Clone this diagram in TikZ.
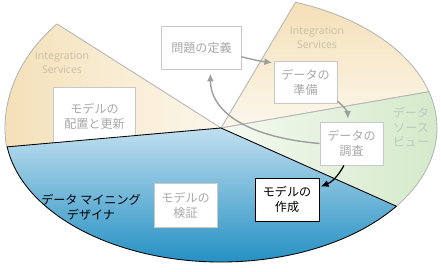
\documentclass[tikz,border=0pt]{standalone}
\usepackage{fontspec}
\setmainfont{Noto Sans CJK JP}
\newfontfamily\dmlatin{Open Sans}
\usetikzlibrary{arrows.meta,positioning}
\definecolor{DmTanDark}{RGB}{244,224,183}
\definecolor{DmTanLight}{RGB}{252,247,236}
\definecolor{DmBlueTop}{RGB}{192,223,239}
\definecolor{DmBlueBottom}{RGB}{27,139,192}
\definecolor{DmGreenDark}{RGB}{210,233,200}
\definecolor{DmGreenLight}{RGB}{245,250,241}
\definecolor{DmEdgeGray}{RGB}{180,180,180}
\definecolor{DmBoxGray}{RGB}{200,200,200}
\definecolor{DmTextGray}{RGB}{168,168,168}
\definecolor{DmArrowGray}{RGB}{158,158,158}
\definecolor{DmIsText}{RGB}{200,190,166}
\definecolor{DmDsvText}{RGB}{188,202,188}
\tikzset{
  dm/wedge/.style={draw=DmEdgeGray, line width=0.6pt, line join=round},
  dm/box/.style={
    draw=DmBoxGray,
    line width=0.7pt,
    fill=white,
    align=center,
    text=DmTextGray,
    inner sep=0pt,
    font=\fontsize{8.6}{10.6}\selectfont
  },
  dm/activebox/.style={dm/box, draw=black, text=black},
  dm/islabel/.style={font=\dmlatin\fontsize{7.5}{10}\selectfont, text=DmIsText, align=center},
  dm/dsvlabel/.style={font=\fontsize{8.6}{10.6}\selectfont, text=DmDsvText, align=center},
  dm/dmdlabel/.style={font=\fontsize{8.6}{10.6}\selectfont, text=black, align=center},
  dm/arrow/.style={-{Latex[length=5.5pt,width=5pt]}, line width=1pt, draw=DmArrowGray},
  dm/blackarrow/.style={-{Latex[length=5.5pt,width=5pt]}, line width=0.9pt, draw=black}
}

\begin{document}
\begin{tikzpicture}[x=0.025cm,y=0.025cm]
  \useasboundingbox (0,0) rectangle (441,271);
  \coordinate (hub) at (221,143);

  % pie pieces
  \draw[dm/wedge, left color=DmTanDark, right color=DmTanLight]
    (hub) -- ++(139.4:216 and 160) arc[start angle=139.4, end angle=186.8, x radius=216, y radius=160] -- cycle;
  \draw[dm/wedge, top color=DmTanDark, bottom color=DmTanLight]
    (hub) -- ++(15.7:216 and 134) arc[start angle=15.7, end angle=69.8, x radius=216, y radius=134] -- cycle;
  \draw[dm/wedge, left color=DmGreenLight, right color=DmGreenDark]
    (hub) -- ++(-35.7:216 and 134) arc[start angle=-35.7, end angle=15.7, x radius=216, y radius=134] -- cycle;

  \node[dm/box, minimum width=2.025cm, minimum height=1.475cm] (haichi) at (94.5,154.5) {モデルの\\配置と更新};

  \draw[line width=0.6pt, line join=round, draw=black, top color=DmBlueTop, bottom color=DmBlueBottom]
    (hub) -- ++(188.1:216 and 134) arc[start angle=188.1, end angle=324.3, x radius=216, y radius=134] -- cycle;

  % labels
  \node[dm/islabel] (isleft) at (62,208) {Integration\\Services};
  \node[dm/islabel] (isright) at (317,233.5) {Integration\\Services};
  \node[dm/dsvlabel] (dsv) at (411,144) {データ\\ソース\\ビュー};
  \node[dm/dmdlabel] (dmd) at (91,63.5) {データ マイニング\\デザイナ};

  % steps
  \node[dm/box, minimum width=1.975cm, minimum height=1.075cm] (teigi) at (201.5,223.5) {問題の定義};
  \node[dm/box, minimum width=1.575cm, minimum height=1.05cm] (junbi) at (305.5,189) {データの\\準備};
  \node[dm/box, minimum width=1.575cm, minimum height=1.075cm] (chosa) at (351.5,127.5) {データの\\調査};
  \node[dm/activebox, minimum width=1.6cm, minimum height=1.075cm] (sakusei) at (287,71.5) {モデルの\\作成};
  \node[dm/box, minimum width=1.575cm, minimum height=1.1cm] (kensho) at (185.5,66) {モデルの\\検証};

  \draw[dm/arrow, shorten >=1pt] (teigi.-13) to[bend right=4] (junbi.149);
  \draw[dm/arrow, shorten >=2pt] (junbi.-31) to[bend left=25] (chosa.99);
  \draw[dm/blackarrow, shorten >=1pt] (chosa.-109) to[bend left=20] (sakusei.21);
  \draw[dm/arrow, shorten >=3pt] (chosa.west) .. controls +(-80,7) and +(0,-38) .. (teigi.-68);
\end{tikzpicture}
\end{document}
